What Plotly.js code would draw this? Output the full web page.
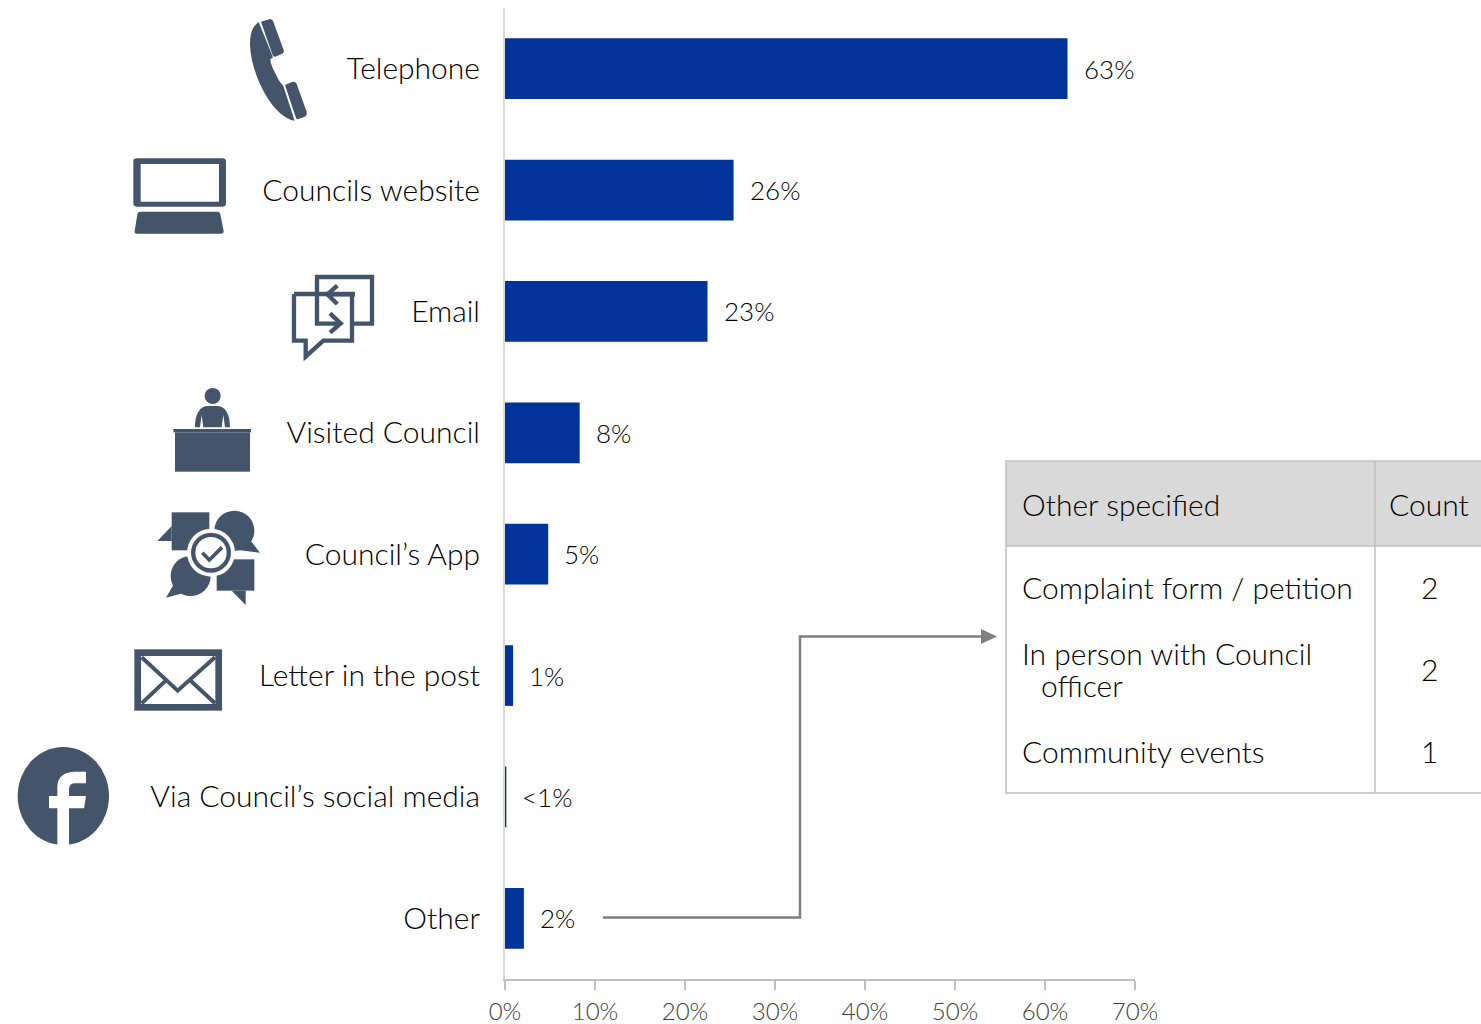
<!DOCTYPE html>
<html><head><meta charset="utf-8">
<script src="https://cdn.plot.ly/plotly-3.0.1.min.js"></script>
<style>html,body{margin:0;padding:0;background:#fff;overflow:hidden}#chart{width:1481px;height:1024px}</style>
</head><body><div id="chart"></div>
<script>
const categories = ["Telephone","Councils website","Email","Visited Council","Council’s App","Letter in the post","Via Council’s social media","Other"];
const values = [62.5,25.4,22.5,8.3,4.8,0.9,0.15,2.1];
const valueLabels = ["63%","26%","23%","8%","5%","1%","<1%","2%"];
const tickValues = [0,10,20,30,40,50,60,70];
const tickLabels = ["0%","10%","20%","30%","40%","50%","60%","70%"];
const tableHeader = ["Other specified","Count"];
const otherRows = ["Complaint form / petition","In person with Council","officer","Community events"];
const otherCounts = ["2","2","1"];

const W=1481,H=1024, FONT='Lato, sans-serif', ICON='#44546A';
const px=x=>x/W, py=y=>1-y/H;
const xDomain=[px(505),px(1135)], yDomain=[py(979),py(8)];

function icon(inner,zx,zy,zw,zh,off){
  const svg=`<svg xmlns="http://www.w3.org/2000/svg" width="${zw}" height="${zh}" viewBox="${zx} ${zy} ${zw} ${zh}">${inner}</svg>`;
  return {source:'data:image/svg+xml;charset=utf-8,'+encodeURIComponent(svg),xref:'paper',yref:'paper',
    x:px(zx/3),y:py(off+zy/3),sizex:zw/3/W,sizey:zh/3/H,xanchor:'left',yanchor:'top',sizing:'stretch',layer:'above'};
}
const c=ICON;
const phone=`<g fill="${c}"><path d="M783,65L810,57Q818,57 820,65L851,150Q853,158 846,161L826,170Q820,171 818,166Z"/>
<path d="M776,66C755,80 750,105 750,135C752,190 775,250 800,290C825,330 855,358 884,362L850,258C845,252 838,245 832,232C822,212 812,195 811,178L819,172Z"/>
<path d="M855,255L878,245Q887,244 890,252L920,335Q922,346 914,350L893,358Q889,358 888,354Z"/></g>`;
const laptop=`<path fill="${c}" fill-rule="evenodd" d="M410,475H668Q678,475 678,485V610Q678,620 668,620H410Q400,620 400,610V485Q400,475 410,475ZM422,492V605H657V492Z"/><path fill="${c}" d="M420,635H652Q660,635 661,643L671,693Q671,701 663,701H410Q403,701 404,693L412,643Q413,635 420,635Z"/>`;
const email=`<g fill="none" stroke="${c}" stroke-width="13"><path d="M1060,971H1116V831H951V971H1020"/><path d="M882,882H1065M1056,882V1022H970L917,1070V1022H882V882"/><path d="M1065,883H985M1012,857L982,883L1012,912"/><path d="M990,940L1022,970L990,998"/></g>`;
const desk=`<g fill="${c}"><circle cx="638" cy="78" r="24"/><path d="M585,172C585,130 600,108 625,108H650C675,108 690,130 690,172H675L670,135L665,172H610L605,135L600,172Z"/><rect x="520" y="177" width="233" height="10"/><rect x="525" y="187" width="225" height="118"/></g>`;
const app=`<g fill="${c}"><rect x="515" y="427" width="113" height="114"/><path d="M515,468L472,513H515Z"/><circle cx="703" cy="482" r="60"/><path d="M750,510L780,548L715,540Z"/><circle cx="572" cy="618" r="60"/><path d="M520,645L498,683L548,670Z"/><rect x="650" y="568" width="113" height="94"/><path d="M695,662L737,705V662Z"/></g><circle cx="633" cy="548" r="72" fill="#fff"/><circle cx="633" cy="548" r="60" fill="${c}"/><circle cx="633" cy="548" r="47" fill="#fff"/><path d="M607,548L628,570L666,532" fill="none" stroke="${c}" stroke-width="11"/>`;
const envelope=`<g fill="none" stroke="${c}"><rect x="413" y="848" width="243" height="164" stroke-width="20"/><path stroke-width="12" d="M425,862L533,962L645,862M425,1000L497,932M645,1000L572,932"/></g>`;
const fb=`<ellipse cx="190" cy="1278" rx="137" ry="147" fill="${c}"/><path fill="#fff" d="M172,1425V1315H147V1278H172V1250C172,1220 195,1205 225,1205H258V1240H230C213,1240 207,1245 207,1260V1278H258L252,1315H207V1425Z"/>`;
const images=[
 icon(phone,740,50,190,320,0),
 icon(laptop,395,470,290,236,0),
 icon(email,870,820,258,262,0),
 icon(desk,515,50,245,260,370),
 icon(app,465,415,320,295,370),
 icon(envelope,400,835,270,190,370),
 icon(fb,50,1130,280,296,370)
];

const seg=(a,b)=>`${px(a)} ${py(b)}`;
const connector=`M${seg(603,917.5)} L${seg(800,917.5)} L${seg(800,636.5)} L${seg(985,636.5)}`;
const arrow=`M${seg(981,629)} L${seg(997,636.5)} L${seg(981,644)} Z`;
const GRID='#bfbfbf';
const shapes=[
 {type:'path',xref:'paper',yref:'paper',path:connector,line:{color:'#7f7f7f',width:2.5}},
 {type:'path',xref:'paper',yref:'paper',path:arrow,fillcolor:'#7f7f7f',line:{color:'#7f7f7f',width:0}},
 {type:'rect',xref:'paper',yref:'paper',x0:px(1006),x1:px(1483),y0:py(461),y1:py(546),fillcolor:'#d9d9d9',line:{width:0}},
 {type:'rect',xref:'paper',yref:'paper',x0:px(1006),x1:px(1483),y0:py(461),y1:py(793),line:{color:GRID,width:1.5}},
 {type:'line',xref:'paper',yref:'paper',x0:px(1006),x1:px(1483),y0:py(546),y1:py(546),line:{color:GRID,width:1.5}},
 {type:'line',xref:'paper',yref:'paper',x0:px(1375),x1:px(1375),y0:py(461),y1:py(793),line:{color:GRID,width:1.5}}
];
const tb=(t,x,y,anchor)=>({text:t,xref:'paper',yref:'paper',x:px(x),y:py(y),xanchor:anchor,yanchor:'middle',showarrow:false,align:anchor,font:{family:FONT,size:30,weight:300,color:'#000'}});
const rowY=[587,653,685,751], countY=[587,669,751], rowX=[1020,1020,1039,1020];
const annotations=[
 ...values.map((v,i)=>({text:valueLabels[i],x:v,y:categories[i],xref:'x',yref:'y',xanchor:'left',yanchor:'middle',xshift:14,yshift:0,showarrow:false,font:{family:FONT,size:26,weight:300,color:'#000'}})),
 tb(tableHeader[0],1020,504,'left'),tb(tableHeader[1],1429,504,'center'),
 ...otherRows.map((t,i)=>tb(t,rowX[i],rowY[i],'left')),
 ...otherCounts.map((t,i)=>tb(t,1429,countY[i],'center'))
];
const trace={type:'bar',orientation:'h',x:values,y:categories,width:0.5,marker:{color:'#00349A'},hoverinfo:'skip',cliponaxis:false};
const layout={width:W,height:H,margin:{l:0,r:0,t:0,b:0,pad:0},paper_bgcolor:'#fff',plot_bgcolor:'#fff',showlegend:false,
 bargap:0.5,font:{family:FONT},
 xaxis:{domain:xDomain,range:[0,70],tickmode:'array',tickvals:tickValues,ticktext:tickLabels,ticks:'outside',ticklen:9,tickwidth:2,tickcolor:GRID,
   showgrid:false,zeroline:false,showline:true,linecolor:GRID,linewidth:2,tickfont:{family:FONT,size:24,weight:300,color:'#404040'},ticklabelstandoff:1},
 yaxis:{domain:yDomain,type:'category',categoryorder:'array',categoryarray:categories,autorange:false,range:[7.5,-0.5],ticks:'',showgrid:false,zeroline:false,showline:true,linecolor:'#d9d9d9',linewidth:2,
   tickfont:{family:FONT,size:30,weight:300,color:'#000'},ticklabelstandoff:17},
 images,shapes,annotations};
Plotly.newPlot('chart',[trace],layout,{displayModeBar:false,staticPlot:true});
</script></body></html>
